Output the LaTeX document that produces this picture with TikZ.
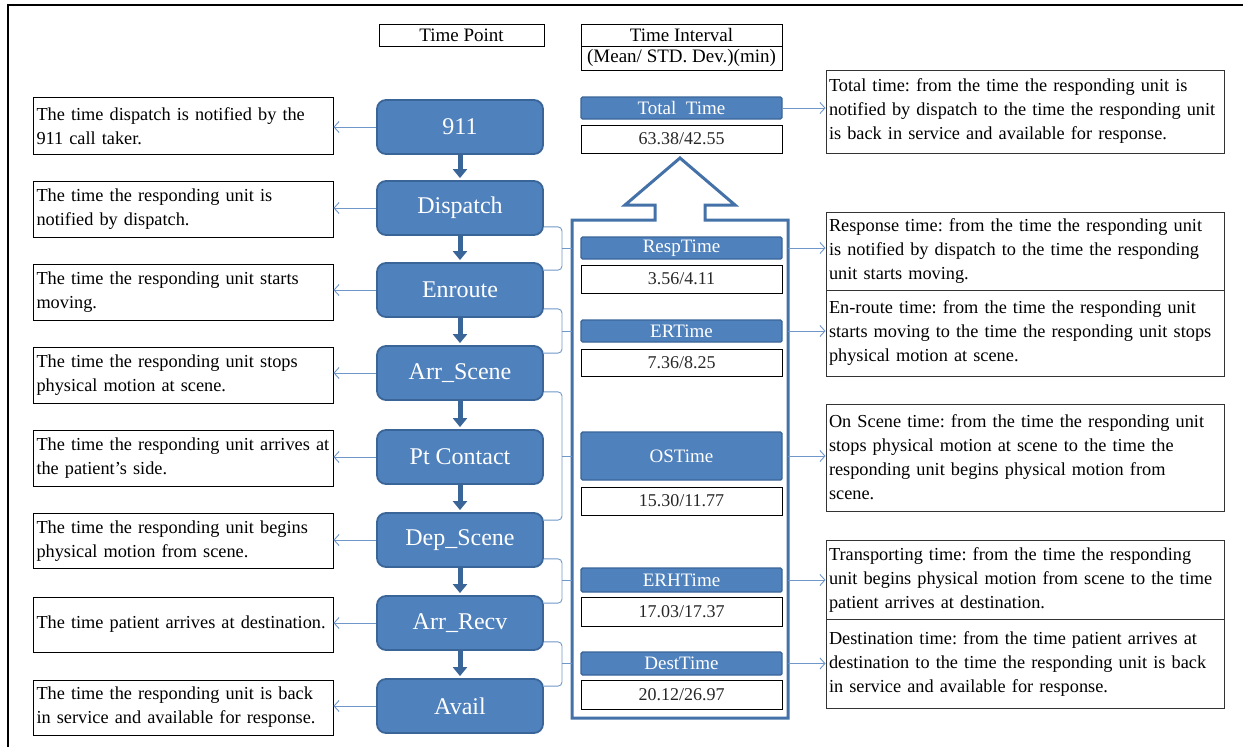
\documentclass[tikz,border=0pt]{standalone}
\usepackage{fontspec}
\setmainfont{Liberation Serif}
\usetikzlibrary{arrows.meta,calc}
\definecolor{bfill}{HTML}{4F81BD}
\definecolor{bdark}{HTML}{3A6598}
\definecolor{lblue}{HTML}{6F97C9}
\definecolor{oblue}{HTML}{4472A8}
\tikzset{
  ptbox/.style={draw=bdark, fill=bfill, line width=1.8pt, rounded corners=9pt, minimum width=166pt, minimum height=54pt, text=white, font=\fontsize{24}{26}\selectfont, inner sep=0pt},
  ldesc/.style={draw=black, line width=0.9pt, minimum width=300pt, text width=293pt, inner xsep=3.5pt, inner ysep=2pt, align=left, font=\fontsize{18.3}{24}\selectfont},
  rdesc/.style={draw=black!80, line width=0.9pt, minimum width=398pt, text width=392pt, inner xsep=3pt, inner ysep=2pt, align=left, font=\fontsize{18.3}{24}\selectfont},
  hdr/.style={draw=black, line width=0.9pt, inner sep=0pt, font=\fontsize{19}{20}\selectfont},
  bar/.style={draw=bdark, fill=bfill, line width=1.4pt, rounded corners=1.5pt, minimum width=201pt, inner sep=0pt, text=white, font=\fontsize{19}{20}\selectfont},
  valbox/.style={draw=black, line width=0.9pt, minimum width=201pt, inner sep=0pt, text=black!85, font=\fontsize{18}{20}\selectfont},
  larr/.style={draw=lblue, line width=0.9pt, -{Straight Barb[length=5pt,width=11pt]}},
  darr/.style={draw=bdark, line width=5pt, -{Triangle[width=14pt,length=9pt]}, shorten >=2pt},
  brace/.style={draw=lblue, line width=0.9pt, rounded corners=4pt},
}
\begin{document}
\frenchspacing
\begin{tikzpicture}[x=1pt,y=-1pt]
\useasboundingbox (0,0) rectangle (1243,747);
% frame
\draw[line width=1.8pt] (8,747) -- (8,5) -- (1243,5);
% headers
\node[hdr, minimum width=165pt, minimum height=22pt] (hpt) at (461.5,35) {Time Point};
\node[hdr, minimum width=201pt, minimum height=22pt] (hti) at (681.5,35) {Time Interval};
\node[hdr, minimum width=201pt, minimum height=24pt] (hms) at (681.5,58) {(Mean/ STD. Dev.)(min)};
% time points
\node[ptbox] (n1) at (460,127) {911};
\node[ptbox] (n2) at (460,208) {Dispatch};
\node[ptbox] (n3) at (460,290) {Enroute};
\node[ptbox] (n4) at (460,373) {Arr\_Scene};
\node[ptbox] (n5) at (460,457) {Pt Contact};
\node[ptbox] (n6) at (460,540) {Dep\_Scene};
\node[ptbox] (n7) at (460,623) {Arr\_Recv};
\node[ptbox] (n8) at (460,706) {Avail};
\foreach \a/\b in {n1/n2,n2/n3,n3/n4,n4/n5,n5/n6,n6/n7,n7/n8}
  \draw[darr] (\a.south) -- (\b.north);
% left descriptions
\node[ldesc, minimum height=57pt] (d1) at (183,126) {The time dispatch is notified by the\\911 call taker.};
\node[ldesc, minimum height=56pt] (d2) at (183,209) {The time the responding unit is\\notified by dispatch.};
\node[ldesc, minimum height=56pt] (d3) at (183,292) {The time the responding unit starts\\moving.};
\node[ldesc, minimum height=56pt] (d4) at (183,375) {The time the responding unit stops\\physical motion at scene.};
\node[ldesc, minimum height=56pt] (d5) at (183,458) {The time the responding unit arrives at\\the patient's side.};
\node[ldesc, minimum height=55pt] (d6) at (183,541) {The time the responding unit begins\\physical motion from scene.};
\node[ldesc, minimum height=55pt] (d7) at (183,624.5) {The time patient arrives at destination.};
\node[ldesc, minimum height=55pt] (d8) at (183,707.5) {The time the responding unit is back\\in service and available for response.};
\foreach \i in {1,...,8}
  \draw[larr] (n\i.west) -- (n\i.west -| d\i.east);
% big arrow outline
\draw[draw=oblue, line width=3pt, line join=miter] (572,718) -- (572,220) -- (655,220) -- (655,205) -- (625,205) -- (680,158) -- (735,205) -- (705,205) -- (705,220) -- (788,220) -- (788,718) -- cycle;
\coordinate (outL) at (572,0);
\coordinate (outR) at (788,0);
\coordinate (brX) at (562,0);
% interval bars
\node[bar, minimum height=22pt] (btot) at (681.5,108) {Total~~Time};
\node[valbox, minimum height=28pt] (vtot) at (681.5,139) {63.38/42.55};
\node[bar, minimum height=22pt] (bresp) at (681.5,248) {RespTime};
\node[valbox, minimum height=28pt] (vresp) at (681.5,279) {3.56/4.11};
\node[bar, minimum height=22pt] (ber) at (681.5,331) {ERTime};
\node[valbox, minimum height=27pt] (ver) at (681.5,362.5) {7.36/8.25};
\node[bar, minimum height=48pt] (bos) at (681.5,456) {OSTime};
\node[valbox, minimum height=28pt] (vos) at (681.5,501) {15.30/11.77};
\node[bar, minimum height=24pt] (berh) at (681.5,580) {ERHTime};
\node[valbox, minimum height=29pt] (verh) at (681.5,611.5) {17.03/17.37};
\node[bar, minimum height=23pt] (bdest) at (681.5,663.5) {DestTime};
\node[valbox, minimum height=29pt] (vdest) at (681.5,694.5) {20.12/26.97};
% right descriptions
\node[rdesc, minimum height=83pt] (rtot) at (1025,111.5) {Total time: from the time the responding unit is\\notified by dispatch to the time the responding unit\\is back in service and available for response.};
\node[rdesc, minimum height=78pt] (rresp) at (1025,251) {Response time: from the time the responding unit\\is notified by dispatch to the time the responding\\unit starts moving.};
\node[rdesc, minimum height=86pt] (rer) at (1025,333) {En-route time: from the time the responding unit\\starts moving to the time the responding unit stops\\physical motion at scene.};
\node[rdesc, minimum height=107pt] (ros) at (1025,457.5) {On Scene time: from the time the responding unit\\stops physical motion at scene to the time the\\responding unit begins physical motion from\\scene.};
\node[rdesc, minimum height=79pt] (rerh) at (1025,579.5) {Transporting time: from the time the responding\\unit begins physical motion from scene to the time\\patient arrives at destination.};
\node[rdesc, minimum height=89pt] (rdest) at (1025,663.5) {Destination time: from the time patient arrives at\\destination to the time the responding unit is back\\in service and available for response.};
% right arrows
\draw[larr] (btot.east) -- (btot.east -| rtot.west);
\draw[larr] (bresp.east -| outR) -- (bresp.east -| rresp.west);
\draw[larr] (ber.east -| outR) -- (ber.east -| rer.west);
\draw[larr] (bos.east -| outR) -- (bos.east -| ros.west);
\draw[larr] (berh.east -| outR) -- (berh.east -| rerh.west);
\draw[larr] (bdest.east -| outR) -- (bdest.east -| rdest.west);
% braces
\draw[brace] ([yshift=9pt]n2.south east) -| (bresp.west -| brX) |- ([yshift=-8pt]n3.north east);
\draw[brace] (bresp.west -| brX) -- (bresp.west -| outL);
\draw[brace] ([yshift=9pt]n3.south east) -| (ber.west -| brX) |- ([yshift=-8pt]n4.north east);
\draw[brace] (ber.west -| brX) -- (ber.west -| outL);
\draw[brace] ([yshift=9pt]n4.south east) -| (bos.west -| brX) |- ([yshift=-8pt]n6.north east);
\draw[brace] (bos.west -| brX) -- (bos.west -| outL);
\draw[brace] ([yshift=9pt]n6.south east) -| (berh.west -| brX) |- ([yshift=-8pt]n7.north east);
\draw[brace] (berh.west -| brX) -- (berh.west -| outL);
\draw[brace] ([yshift=9pt]n7.south east) -| (bdest.west -| brX) |- ([yshift=-8pt]n8.north east);
\draw[brace] (bdest.west -| brX) -- (bdest.west -| outL);
\end{tikzpicture}
\end{document}
